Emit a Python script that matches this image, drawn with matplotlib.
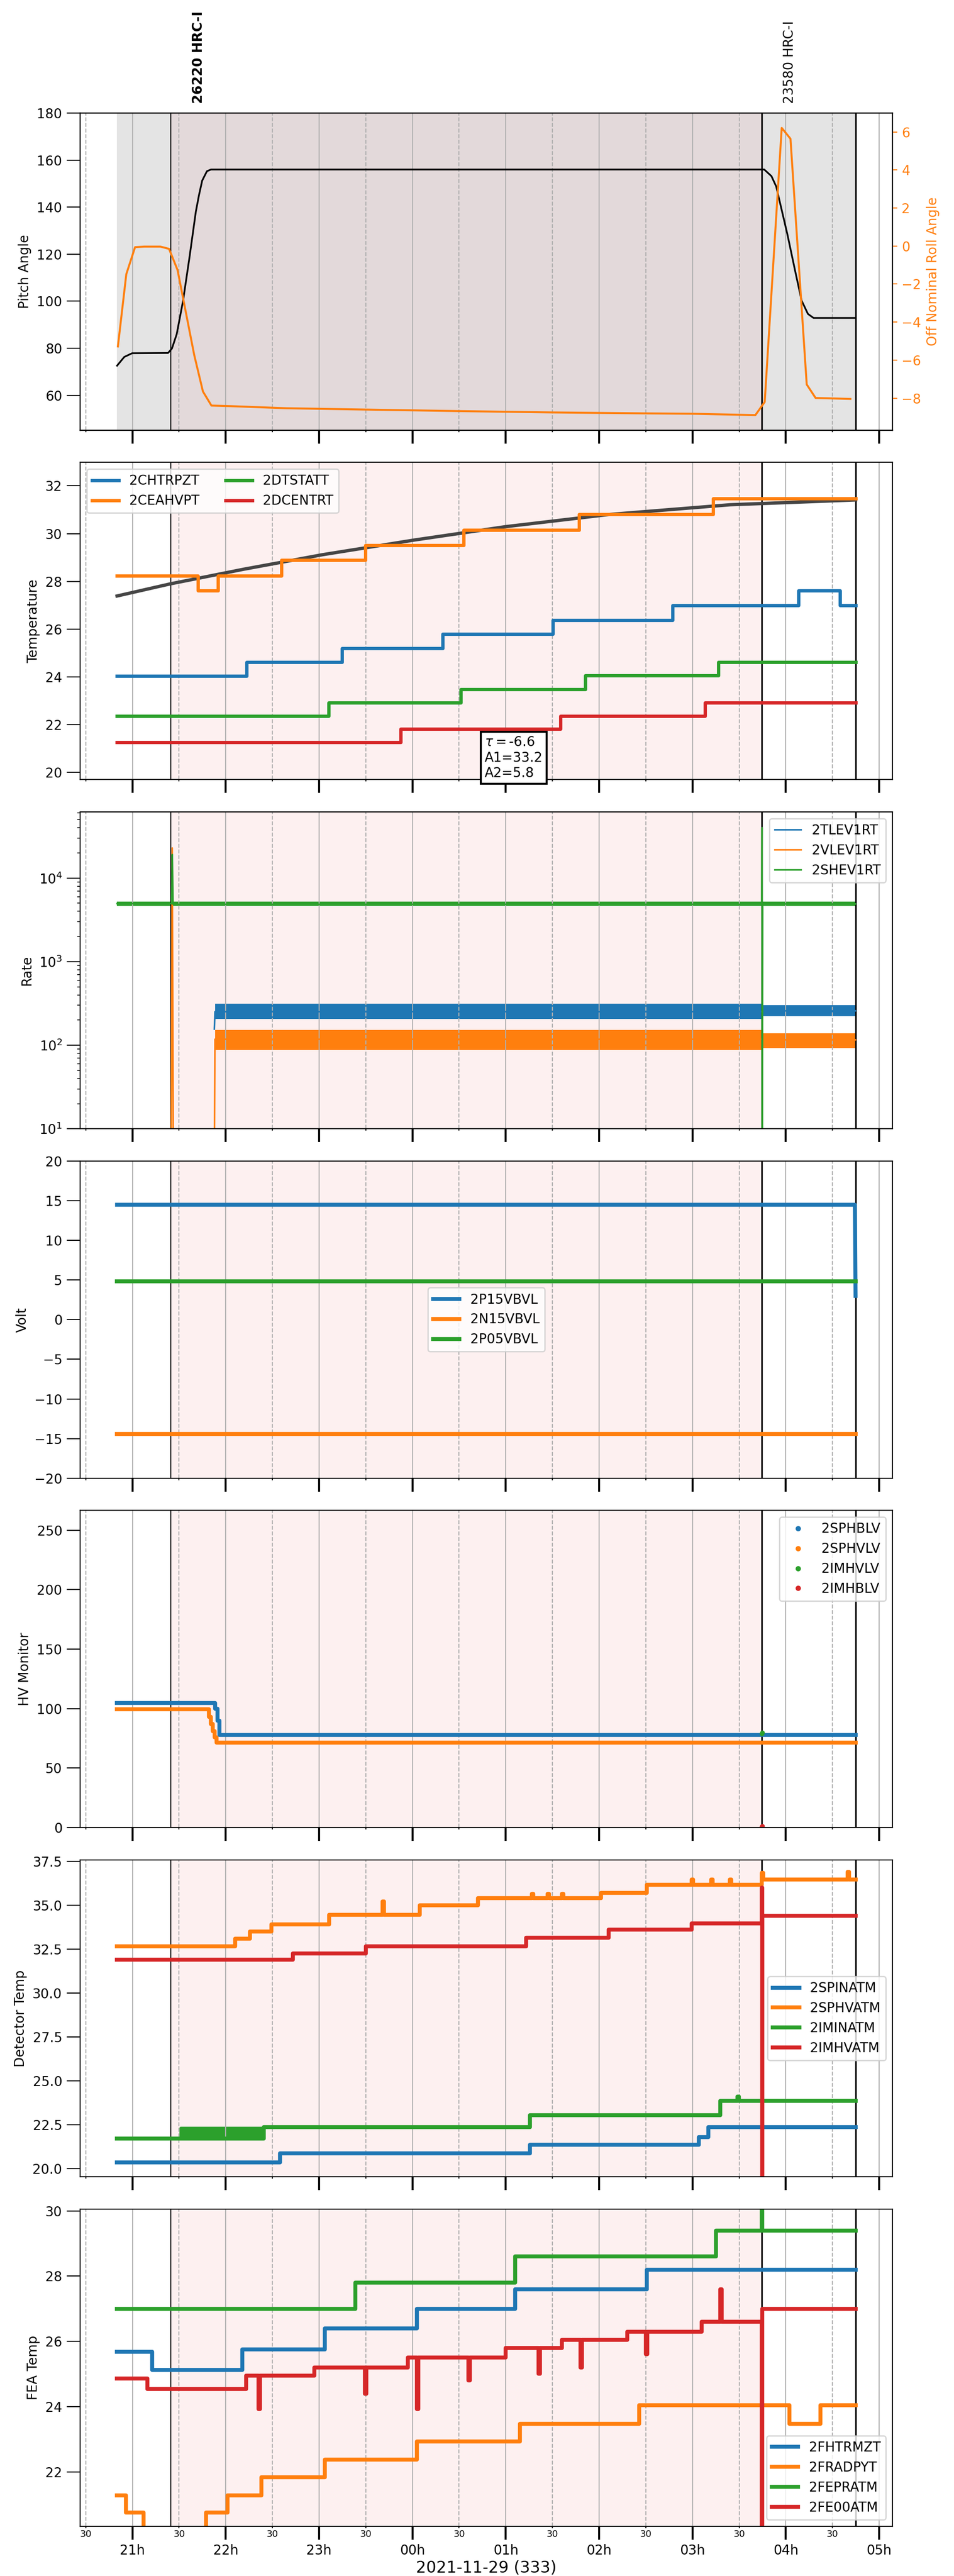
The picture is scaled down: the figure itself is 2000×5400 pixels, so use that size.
import numpy as np
import matplotlib
matplotlib.use('Agg')
import matplotlib.pyplot as plt
from matplotlib.ticker import MultipleLocator, FuncFormatter
from matplotlib.lines import Line2D

# time axis in hours since 2021-11-28 00:00 (values above 24 are day 333)
t_first = 20.836
t_obs1 = 21.412
t_obs2 = 27.745
t_last = 28.747
obs_names = ['26220 HRC-I', '23580 HRC-I']

# ---- pitch / roll
pitch_t = [20.836, 20.913, 20.998, 21.382, 21.424, 21.475, 21.543, 21.612, 21.680, 21.714,
           21.748, 21.799, 21.842, 27.743, 27.769, 27.846, 27.897, 28.016, 28.101, 28.169,
           28.237, 28.297, 28.747]
pitch = [72.6, 76.3, 77.9, 78.0, 79.9, 86.0, 100.2, 118.7, 138.1, 145.2,
         151.3, 155.3, 156.0, 156.0, 156.0, 153.2, 148.8, 128.6, 112.7, 100.3,
         94.6, 92.9, 92.9]
roll_t = [20.845, 20.935, 21.029, 21.126, 21.30, 21.393, 21.484, 21.663, 21.756, 21.847,
          22.054, 22.65, 23.5, 24.5, 25.5, 26.5, 26.994, 27.674, 27.774, 27.956,
          28.050, 28.224, 28.319, 28.692]
roll = [-5.28, -1.48, -0.06, -0.03, -0.03, -0.15, -1.26, -5.74, -7.65, -8.39,
        -8.42, -8.53, -8.60, -8.68, -8.75, -8.80, -8.82, -8.89, -8.20, 6.21,
        5.64, -7.28, -7.99, -8.04]

# ---- HRC temperatures (step data)
chtrpzt_t = [20.836, 22.224, 23.247, 24.323, 25.503, 26.786, 28.136, 28.579, 28.747]
chtrpzt = [24.05, 24.62, 25.20, 25.79, 26.38, 27.00, 27.62, 27.00, 27.00]
ceahvpt_t = [20.836, 21.703, 21.918, 22.596, 23.495, 24.551, 25.783, 27.223, 28.747]
ceahvpt = [28.24, 27.62, 28.24, 28.89, 29.52, 30.16, 30.81, 31.48, 31.48]
dtstatt_t = [20.836, 23.104, 24.518, 25.854, 27.275, 28.747]
dtstatt = [22.36, 22.92, 23.49, 24.06, 24.62, 24.62]
dcentrt_t = [20.836, 23.873, 25.587, 27.132, 28.747]
dcentrt = [21.27, 21.82, 22.37, 22.92, 22.92]
fit_t = [20.836, 21.409, 22.192, 23.039, 24.016, 24.994, 26.102, 27.406, 28.747]
fit = [27.39, 27.90, 28.51, 29.12, 29.73, 30.29, 30.80, 31.21, 31.41]
fit_tau, fit_a1, fit_a2 = -6.6, 33.2, 5.8

# ---- event rates (line + noise envelope)
tlev_t = [21.878, 21.885, 27.742, 27.752, 28.747]
tlev = [156, 252, 252, 258, 258]
tlev_env_t = [21.885, 27.742, 27.747, 27.752, 28.747]
tlev_lo = [205, 205, np.nan, 222, 222]
tlev_hi = [313, 313, np.nan, 300, 300]
vlev_t = [21.415, 21.427, 21.44, 21.876, 21.885, 27.742, 27.752, 28.747]
vlev = [2, 22900, 2, 2, 118, 118, 116, 116]
vlev_env_t = [21.885, 27.742, 27.747, 27.752, 28.747]
vlev_lo = [88, 88, np.nan, 92, 92]
vlev_hi = [152, 152, np.nan, 140, 140]
shev_t = [20.836, 21.420, 21.428, 21.436, 27.742, 27.745, 27.748, 27.752, 28.747]
shev = [4950, 4950, 19100, 4850, 4850, 40000, 2, 4900, 4900]
shev_env_t = [20.836, 27.742, 27.747, 27.752, 28.747]
shev_lo = [4650, 4650, np.nan, 4650, 4650]
shev_hi = [5200, 5200, np.nan, 5200, 5200]

# ---- bus voltages
volt_t = [20.836, 28.740, 28.747]
p15vbvl = [14.5, 14.5, 3.0]
n15vbvl = [-14.42, -14.42, -14.42]
p05vbvl = [4.87, 4.87, 4.87]

# ---- HV monitors
sphblv_t = [20.836, 21.865, 21.885, 21.910, 21.935, 28.747]
sphblv = [104.5, 104.5, 100.0, 90.0, 77.8, 77.8]
sphvlv_t = [20.836, 21.80, 21.82, 21.84, 21.86, 21.88, 21.90, 28.747]
sphvlv = [99.5, 99.5, 93.0, 87.0, 81.0, 76.0, 71.5, 71.5]
imhvlv_t = [27.742, 27.748]
imhvlv = [79.0, 80.0]
imhblv_t = [27.742, 27.748]
imhblv = [0.8, 1.2]

# ---- detector temperatures (steps)
spinatm_t = [20.836, 22.58, 25.26, 27.07, 27.17, 28.747]
spinatm = [20.35, 20.85, 21.35, 21.80, 22.35, 22.35]
sphvatm_t = [20.836, 22.10, 22.26, 22.49, 23.11, 23.68, 23.695, 24.08, 24.70, 25.28, 25.295,
             25.45, 25.465, 25.60, 25.615, 26.02, 26.51, 26.99, 27.005, 27.20, 27.215,
             27.40, 27.415, 27.745, 27.76, 28.66, 28.675, 28.747]
sphvatm = [32.66, 33.10, 33.50, 33.90, 34.45, 35.20, 34.45, 35.00, 35.40, 35.65, 35.40,
           35.65, 35.40, 35.65, 35.40, 35.70, 36.15, 36.45, 36.15, 36.45, 36.15,
           36.45, 36.15, 36.85, 36.45, 36.90, 36.45, 36.45]
iminatm_t = [20.836, 22.41, 25.26, 27.30, 27.48, 27.495, 28.747]
iminatm = [21.70, 22.35, 23.05, 23.85, 24.10, 23.85, 23.85]
iminatm_osc_t = [21.52, 22.41]
iminatm_osc_lo = [21.70, 21.70]
iminatm_osc_hi = [22.30, 22.30]
imhvatm_t = [20.836, 22.72, 23.50, 25.22, 26.10, 26.99, 27.742, 27.746, 27.75, 28.747]
imhvatm = [31.90, 32.25, 32.65, 33.15, 33.60, 33.95, 36.00, 15.00, 34.40, 34.40]

# ---- FEA temperatures (steps)
fhtrmzt_t = [20.836, 21.21, 22.18, 23.06, 24.05, 25.10, 26.51, 28.747]
fhtrmzt = [25.68, 25.12, 25.75, 26.40, 27.00, 27.60, 28.20, 28.20]
fradpyt_t = [20.836, 20.93, 21.12, 21.79, 22.02, 22.38, 23.06, 24.05, 25.15, 26.43, 28.04, 28.37, 28.747]
fradpyt = [21.28, 20.75, 19.50, 20.75, 21.28, 21.83, 22.37, 22.93, 23.47, 24.04, 23.47, 24.04, 24.04]
fepratm_t = [20.836, 23.39, 25.10, 27.25, 27.742, 27.75, 28.747]
fepratm = [27.00, 27.80, 28.60, 29.40, 30.60, 29.40, 29.40]
fe00atm_t = [20.836, 21.16, 22.22, 22.35, 22.365, 22.95, 23.49, 23.505, 23.95, 24.05, 24.065,
             24.60, 24.615, 25.00, 25.35, 25.365, 25.60, 25.80, 25.815, 26.30, 26.50, 26.515,
             27.10, 27.30, 27.315, 27.742, 27.75, 28.747]
fe00atm = [24.86, 24.54, 24.95, 23.93, 24.95, 25.20, 24.40, 25.20, 25.50, 23.93, 25.50,
           24.80, 25.50, 25.80, 25.00, 25.80, 26.05, 25.20, 26.05, 26.30, 25.60, 26.30,
           26.60, 27.60, 26.60, 19.00, 27.00, 27.00]

orange = 'tab:orange'

fig, axes = plt.subplots(7, 1, figsize=(10, 27), dpi=200, sharex=True)
fig.subplots_adjust(left=0.084, right=0.9355, top=0.9561, bottom=0.0193, hspace=0.102)
ax1, ax2, ax3, ax4, ax5, ax6, ax7 = axes

# shading and obsid lines
ax1.axvspan(t_first, t_obs1, color='#e4e4e4', lw=0, zorder=0)
ax1.axvspan(t_obs1, t_obs2, color='#e3d9da', lw=0, zorder=0)
ax1.axvspan(t_obs2, t_last, color='#e4e4e4', lw=0, zorder=0)
for ax in axes[1:]:
    ax.axvspan(t_obs1, t_obs2, color='#fdf0f0', lw=0, zorder=0)
for ax in axes:
    ax.axvline(t_obs1, color='k', lw=0.8, zorder=2)
    ax.axvline(t_obs2, color='k', lw=1.2, zorder=2)
    ax.axvline(t_last, color='k', lw=1.2, zorder=2)

# panel 1: pitch and roll
ax1.plot(pitch_t, pitch, color='k', lw=1.3)
ax1.set_ylim(45.2, 180)
ax1.set_ylabel('Pitch Angle')
ax1r = ax1.twinx()
ax1r.plot(roll_t, roll, color=orange, lw=1.5)
ax1r.set_ylim(-9.68, 6.99)
ax1r.set_ylabel('Off Nominal Roll Angle', color=orange)
ax1r.tick_params(axis='y', colors=orange)
for i, (tt, name) in enumerate(zip([t_obs1, t_obs2], obs_names)):
    ax1.text(tt + 0.295, 1.03, name, transform=ax1.get_xaxis_transform(), rotation=90,
             ha='center', va='bottom', fontsize=10, fontweight='bold' if i == 0 else 'normal')

# panel 2: HRC temperatures
ax2.plot(fit_t, fit, color='0.27', lw=2.5)
ax2.plot(chtrpzt_t, chtrpzt, drawstyle='steps-post', lw=2.5, label='2CHTRPZT')
ax2.plot(ceahvpt_t, ceahvpt, drawstyle='steps-post', lw=2.5, label='2CEAHVPT')
ax2.plot(dtstatt_t, dtstatt, drawstyle='steps-post', lw=2.5, label='2DTSTATT')
ax2.plot(dcentrt_t, dcentrt, drawstyle='steps-post', lw=2.5, label='2DCENTRT')
ax2.set_ylim(19.71, 32.98)
ax2.set_ylabel('Temperature')
ax2.legend(loc='upper left', ncol=2)
ax2.text(0.498, 0.138, '$\\tau=$%.1f\nA1=%.1f\nA2=%.1f' % (fit_tau, fit_a1, fit_a2),
         transform=ax2.transAxes, ha='left', va='top', fontsize=10,
         bbox=dict(boxstyle='square,pad=0.3', facecolor='white', edgecolor='k', lw=1.5))

# panel 3: rates
for (lt, lv, et, elo, ehi, c, name) in [
        (tlev_t, tlev, tlev_env_t, tlev_lo, tlev_hi, 'tab:blue', '2TLEV1RT'),
        (vlev_t, vlev, vlev_env_t, vlev_lo, vlev_hi, 'tab:orange', '2VLEV1RT'),
        (shev_t, shev, shev_env_t, shev_lo, shev_hi, 'tab:green', '2SHEV1RT')]:
    ax3.plot(lt, lv, color=c, lw=1.2, label=name)
    ax3.fill_between(et, elo, ehi, color=c, lw=0)
ax3.set_yscale('log')
ax3.set_ylim(10, 6.2e4)
ax3.set_ylabel('Rate')
ax3.legend(loc='upper right')

# panel 4: voltages
ax4.plot(volt_t, p15vbvl, lw=3, label='2P15VBVL')
ax4.plot(volt_t, n15vbvl, lw=3, label='2N15VBVL')
ax4.plot(volt_t, p05vbvl, lw=3, label='2P05VBVL')
ax4.set_ylim(-20, 20)
ax4.yaxis.set_major_locator(MultipleLocator(5))
ax4.set_ylabel('Volt')
ax4.legend(loc='center')

# panel 5: HV monitor
hv_cols = ['tab:blue', 'tab:orange', 'tab:green', 'tab:red']
hv_names = ['2SPHBLV', '2SPHVLV', '2IMHVLV', '2IMHBLV']
ax5.plot(sphblv_t, sphblv, color=hv_cols[0], lw=3, drawstyle='steps-post')
ax5.plot(sphvlv_t, sphvlv, color=hv_cols[1], lw=3, drawstyle='steps-post')
ax5.plot(imhvlv_t, imhvlv, 'o', color=hv_cols[2], ms=2.5)
ax5.plot(imhblv_t, imhblv, 'o', color=hv_cols[3], ms=2.5)
ax5.set_ylim(0, 266.5)
ax5.set_ylabel('HV Monitor')
ax5.legend(handles=[Line2D([], [], ls='none', marker='o', ms=3, color=c, label=n)
                    for c, n in zip(hv_cols, hv_names)], loc='upper right')

# panel 6: detector temps
ax6.plot(spinatm_t, spinatm, drawstyle='steps-post', lw=3, label='2SPINATM')
ax6.plot(sphvatm_t, sphvatm, drawstyle='steps-post', lw=3, label='2SPHVATM')
ax6.plot(iminatm_t, iminatm, drawstyle='steps-post', lw=3, label='2IMINATM')
ax6.fill_between(iminatm_osc_t, iminatm_osc_lo, iminatm_osc_hi, color='tab:green', lw=2)
ax6.plot(imhvatm_t, imhvatm, drawstyle='steps-post', lw=3, label='2IMHVATM')
ax6.set_ylim(19.52, 37.58)
ax6.set_ylabel('Detector Temp')
ax6.legend(loc='center right')

# panel 7: FEA temps
ax7.plot(fhtrmzt_t, fhtrmzt, drawstyle='steps-post', lw=3, label='2FHTRMZT')
ax7.plot(fradpyt_t, fradpyt, drawstyle='steps-post', lw=3, label='2FRADPYT')
ax7.plot(fepratm_t, fepratm, drawstyle='steps-post', lw=3, label='2FEPRATM')
ax7.plot(fe00atm_t, fe00atm, drawstyle='steps-post', lw=3, label='2FE00ATM')
ax7.set_ylim(20.33, 30.05)
ax7.set_ylabel('FEA Temp')
ax7.legend(loc='lower right')

# shared time axis
span = t_last - t_first
ax7.set_xlim(t_first - 0.05 * span, t_last + 0.05 * span)
ax7.xaxis.set_major_locator(MultipleLocator(1))
ax7.xaxis.set_minor_locator(MultipleLocator(0.5))
ax7.xaxis.set_major_formatter(FuncFormatter(lambda x, p: '%02dh' % (int(round(x)) % 24)))
ax7.xaxis.set_minor_formatter(FuncFormatter(lambda x, p: '30'))
for ax in axes:
    ax.grid(True, which='major', axis='x', color='#b0b0b0', lw=0.8)
    ax.grid(True, which='minor', axis='x', color='#b0b0b0', lw=0.8, ls='--')
    ax.tick_params(axis='x', which='major', length=10, width=1.5, pad=3.5)
    ax.tick_params(axis='x', which='minor', length=1.5, width=0.8, labelsize=7, pad=1)
    ax.tick_params(axis='y', which='major', length=10)
ax7.set_xlabel('2021-11-29 (333)', fontsize=12, labelpad=2)

fig.savefig('out.png', dpi=200)
